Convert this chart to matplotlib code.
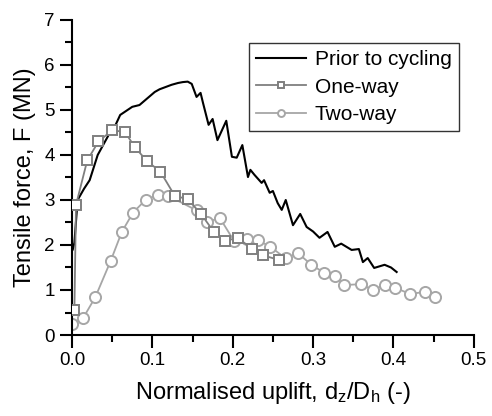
import matplotlib
matplotlib.use('Agg')
import matplotlib.pyplot as plt
from matplotlib.ticker import MultipleLocator

plt.rcParams['font.family'] = ['Liberation Sans', 'DejaVu Sans']
plt.rcParams['mathtext.fontset'] = 'custom'
plt.rcParams['mathtext.rm'] = 'Liberation Sans'
plt.rcParams['mathtext.it'] = 'Liberation Sans'

# Prior to cycling (no markers)
prior_x = [0.001, 0.003, 0.007, 0.015, 0.022, 0.032, 0.047, 0.053, 0.060, 0.075,
           0.084, 0.103, 0.109, 0.118, 0.124, 0.132, 0.138, 0.144, 0.149, 0.155,
           0.160, 0.163, 0.170, 0.175, 0.181, 0.192, 0.199, 0.205, 0.212, 0.219,
           0.222, 0.227, 0.236, 0.239, 0.246, 0.250, 0.256, 0.261, 0.266, 0.275,
           0.284, 0.292, 0.300, 0.308, 0.318, 0.327, 0.335, 0.348, 0.357, 0.362,
           0.368, 0.376, 0.389, 0.397, 0.404]
prior_y = [1.90, 2.05, 3.00, 3.25, 3.44, 4.00, 4.49, 4.62, 4.89, 5.07,
           5.11, 5.40, 5.46, 5.52, 5.56, 5.60, 5.62, 5.63, 5.58, 5.29,
           5.38, 5.16, 4.67, 4.80, 4.33, 4.76, 3.96, 3.94, 4.22, 3.51,
           3.67, 3.56, 3.38, 3.44, 3.16, 3.20, 2.93, 2.78, 3.00, 2.44,
           2.69, 2.40, 2.30, 2.16, 2.29, 1.96, 2.03, 1.89, 1.91, 1.62,
           1.71, 1.49, 1.56, 1.50, 1.40]

# One-way (squares)
one_x = [0.003, 0.005, 0.019, 0.033, 0.050, 0.066, 0.078, 0.093, 0.110, 0.128,
         0.144, 0.161, 0.177, 0.191, 0.206, 0.224, 0.238, 0.257]
one_y = [0.55, 2.89, 3.88, 4.30, 4.55, 4.51, 4.18, 3.87, 3.63, 3.09,
         3.02, 2.68, 2.28, 2.09, 2.16, 1.92, 1.77, 1.67]

# Two-way (circles)
two_x = [0.000, 0.014, 0.029, 0.048, 0.062, 0.076, 0.092, 0.107, 0.120, 0.155,
         0.168, 0.184, 0.202, 0.218, 0.232, 0.247, 0.266, 0.281, 0.298, 0.314,
         0.327, 0.339, 0.360, 0.374, 0.389, 0.402, 0.421, 0.439, 0.452]
two_y = [0.24, 0.38, 0.84, 1.64, 2.29, 2.72, 3.01, 3.11, 3.09, 2.77,
         2.51, 2.60, 2.08, 2.14, 2.10, 1.96, 1.70, 1.82, 1.56, 1.38,
         1.31, 1.11, 1.13, 1.00, 1.11, 1.05, 0.91, 0.96, 0.85]

fig = plt.figure(figsize=(4.92, 4.16), dpi=100)
ax = fig.add_axes([0.1463, 0.1947, 0.8167, 0.7573])

ax.plot(prior_x, prior_y, color='black', lw=1.5, label='Prior to cycling', zorder=3)
ax.plot(one_x, one_y, color='#7f7f7f', lw=1.3, marker='s', ms=6.5, mfc='white',
        mec='#7f7f7f', mew=1.4, label='One-way', zorder=4)
ax.plot(two_x, two_y, color='#a6a6a6', lw=1.3, marker='o', ms=8, mfc='white',
        mec='#a6a6a6', mew=1.4, label='Two-way', zorder=2)

ax.set_xlim(0, 0.5)
ax.set_ylim(0, 7)
ax.xaxis.set_major_locator(MultipleLocator(0.1))
ax.xaxis.set_minor_locator(MultipleLocator(0.05))
ax.yaxis.set_major_locator(MultipleLocator(1))
ax.yaxis.set_minor_locator(MultipleLocator(0.5))
ax.xaxis.set_major_formatter(plt.FuncFormatter(lambda v, p: f'{v:.1f}'))

for side in ['top', 'right']:
    ax.spines[side].set_visible(False)
for side in ['left', 'bottom']:
    ax.spines[side].set_linewidth(1.5)
ax.tick_params(which='major', direction='out', length=9, width=1.5, labelsize=13.5)
ax.tick_params(which='minor', direction='out', length=5, width=1.5)

ax.set_xlabel(r'Normalised uplift, d$_\mathregular{z}$/D$_\mathregular{h}$ (-)', fontsize=17, labelpad=8)
ax.set_ylabel('Tensile force, F (MN)', fontsize=17, labelpad=6)

leg = ax.legend(loc='upper right', bbox_to_anchor=(0.963, 0.927), fontsize=15, frameon=True,
                fancybox=False, edgecolor='black', handlelength=2.4, handletextpad=0.4,
                borderpad=0.35, labelspacing=0.4, borderaxespad=0)
leg.get_frame().set_linewidth(1.0)
for h in leg.legend_handles:
    h.set_markersize(5)

fig.savefig('out.png', dpi=100)
